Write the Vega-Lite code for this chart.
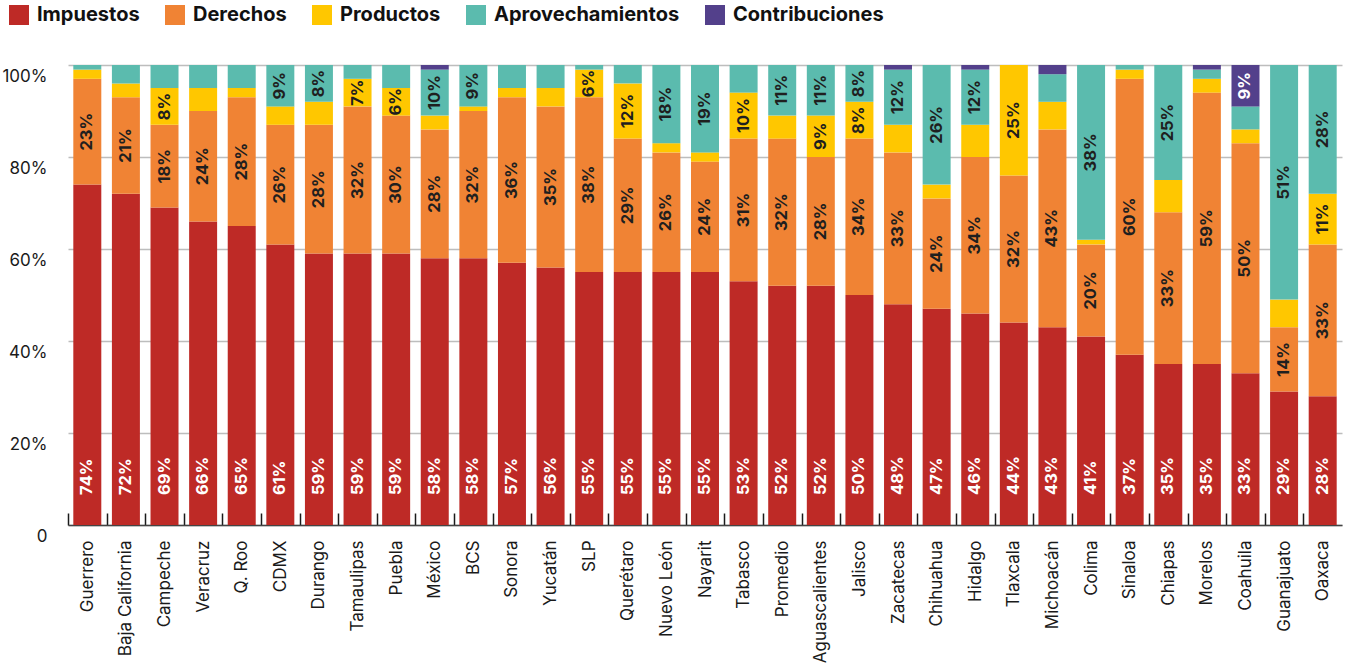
{
  "$schema": "https://vega.github.io/schema/vega-lite/v6.json",
  "width": 1274,
  "height": 460,
  "autosize": {"type": "none"},
  "padding": {"left": 68, "top": 65, "right": 5, "bottom": 146},
  "background": "white",
  "config": {
    "font": "Inter",
    "view": {"stroke": null}
  },
  "data": {
    "values": [
      {"estado": "Guerrero", "tipo": "Impuestos", "valor": 74, "etiqueta": "74%"},
      {"estado": "Guerrero", "tipo": "Derechos", "valor": 23, "etiqueta": "23%"},
      {"estado": "Guerrero", "tipo": "Productos", "valor": 2, "etiqueta": ""},
      {"estado": "Guerrero", "tipo": "Aprovechamientos", "valor": 1, "etiqueta": ""},
      {"estado": "Baja California", "tipo": "Impuestos", "valor": 72, "etiqueta": "72%"},
      {"estado": "Baja California", "tipo": "Derechos", "valor": 21, "etiqueta": "21%"},
      {"estado": "Baja California", "tipo": "Productos", "valor": 3, "etiqueta": ""},
      {"estado": "Baja California", "tipo": "Aprovechamientos", "valor": 4, "etiqueta": ""},
      {"estado": "Campeche", "tipo": "Impuestos", "valor": 69, "etiqueta": "69%"},
      {"estado": "Campeche", "tipo": "Derechos", "valor": 18, "etiqueta": "18%"},
      {"estado": "Campeche", "tipo": "Productos", "valor": 8, "etiqueta": "8%"},
      {"estado": "Campeche", "tipo": "Aprovechamientos", "valor": 5, "etiqueta": ""},
      {"estado": "Veracruz", "tipo": "Impuestos", "valor": 66, "etiqueta": "66%"},
      {"estado": "Veracruz", "tipo": "Derechos", "valor": 24, "etiqueta": "24%"},
      {"estado": "Veracruz", "tipo": "Productos", "valor": 5, "etiqueta": ""},
      {"estado": "Veracruz", "tipo": "Aprovechamientos", "valor": 5, "etiqueta": ""},
      {"estado": "Q. Roo", "tipo": "Impuestos", "valor": 65, "etiqueta": "65%"},
      {"estado": "Q. Roo", "tipo": "Derechos", "valor": 28, "etiqueta": "28%"},
      {"estado": "Q. Roo", "tipo": "Productos", "valor": 2, "etiqueta": ""},
      {"estado": "Q. Roo", "tipo": "Aprovechamientos", "valor": 5, "etiqueta": ""},
      {"estado": "CDMX", "tipo": "Impuestos", "valor": 61, "etiqueta": "61%"},
      {"estado": "CDMX", "tipo": "Derechos", "valor": 26, "etiqueta": "26%"},
      {"estado": "CDMX", "tipo": "Productos", "valor": 4, "etiqueta": ""},
      {"estado": "CDMX", "tipo": "Aprovechamientos", "valor": 9, "etiqueta": "9%"},
      {"estado": "Durango", "tipo": "Impuestos", "valor": 59, "etiqueta": "59%"},
      {"estado": "Durango", "tipo": "Derechos", "valor": 28, "etiqueta": "28%"},
      {"estado": "Durango", "tipo": "Productos", "valor": 5, "etiqueta": ""},
      {"estado": "Durango", "tipo": "Aprovechamientos", "valor": 8, "etiqueta": "8%"},
      {"estado": "Tamaulipas", "tipo": "Impuestos", "valor": 59, "etiqueta": "59%"},
      {"estado": "Tamaulipas", "tipo": "Derechos", "valor": 32, "etiqueta": "32%"},
      {"estado": "Tamaulipas", "tipo": "Productos", "valor": 6, "etiqueta": "7%"},
      {"estado": "Tamaulipas", "tipo": "Aprovechamientos", "valor": 3, "etiqueta": ""},
      {"estado": "Puebla", "tipo": "Impuestos", "valor": 59, "etiqueta": "59%"},
      {"estado": "Puebla", "tipo": "Derechos", "valor": 30, "etiqueta": "30%"},
      {"estado": "Puebla", "tipo": "Productos", "valor": 6, "etiqueta": "6%"},
      {"estado": "Puebla", "tipo": "Aprovechamientos", "valor": 5, "etiqueta": ""},
      {"estado": "México", "tipo": "Impuestos", "valor": 58, "etiqueta": "58%"},
      {"estado": "México", "tipo": "Derechos", "valor": 28, "etiqueta": "28%"},
      {"estado": "México", "tipo": "Productos", "valor": 3, "etiqueta": ""},
      {"estado": "México", "tipo": "Aprovechamientos", "valor": 10, "etiqueta": "10%"},
      {"estado": "México", "tipo": "Contribuciones", "valor": 1, "etiqueta": ""},
      {"estado": "BCS", "tipo": "Impuestos", "valor": 58, "etiqueta": "58%"},
      {"estado": "BCS", "tipo": "Derechos", "valor": 32, "etiqueta": "32%"},
      {"estado": "BCS", "tipo": "Productos", "valor": 1, "etiqueta": ""},
      {"estado": "BCS", "tipo": "Aprovechamientos", "valor": 9, "etiqueta": "9%"},
      {"estado": "Sonora", "tipo": "Impuestos", "valor": 57, "etiqueta": "57%"},
      {"estado": "Sonora", "tipo": "Derechos", "valor": 36, "etiqueta": "36%"},
      {"estado": "Sonora", "tipo": "Productos", "valor": 2, "etiqueta": ""},
      {"estado": "Sonora", "tipo": "Aprovechamientos", "valor": 5, "etiqueta": ""},
      {"estado": "Yucatán", "tipo": "Impuestos", "valor": 56, "etiqueta": "56%"},
      {"estado": "Yucatán", "tipo": "Derechos", "valor": 35, "etiqueta": "35%"},
      {"estado": "Yucatán", "tipo": "Productos", "valor": 4, "etiqueta": ""},
      {"estado": "Yucatán", "tipo": "Aprovechamientos", "valor": 5, "etiqueta": ""},
      {"estado": "SLP", "tipo": "Impuestos", "valor": 55, "etiqueta": "55%"},
      {"estado": "SLP", "tipo": "Derechos", "valor": 38, "etiqueta": "38%"},
      {"estado": "SLP", "tipo": "Productos", "valor": 6, "etiqueta": "6%"},
      {"estado": "SLP", "tipo": "Aprovechamientos", "valor": 1, "etiqueta": ""},
      {"estado": "Querétaro", "tipo": "Impuestos", "valor": 55, "etiqueta": "55%"},
      {"estado": "Querétaro", "tipo": "Derechos", "valor": 29, "etiqueta": "29%"},
      {"estado": "Querétaro", "tipo": "Productos", "valor": 12, "etiqueta": "12%"},
      {"estado": "Querétaro", "tipo": "Aprovechamientos", "valor": 4, "etiqueta": ""},
      {"estado": "Nuevo León", "tipo": "Impuestos", "valor": 55, "etiqueta": "55%"},
      {"estado": "Nuevo León", "tipo": "Derechos", "valor": 26, "etiqueta": "26%"},
      {"estado": "Nuevo León", "tipo": "Productos", "valor": 2, "etiqueta": ""},
      {"estado": "Nuevo León", "tipo": "Aprovechamientos", "valor": 17, "etiqueta": "18%"},
      {"estado": "Nayarit", "tipo": "Impuestos", "valor": 55, "etiqueta": "55%"},
      {"estado": "Nayarit", "tipo": "Derechos", "valor": 24, "etiqueta": "24%"},
      {"estado": "Nayarit", "tipo": "Productos", "valor": 2, "etiqueta": ""},
      {"estado": "Nayarit", "tipo": "Aprovechamientos", "valor": 19, "etiqueta": "19%"},
      {"estado": "Tabasco", "tipo": "Impuestos", "valor": 53, "etiqueta": "53%"},
      {"estado": "Tabasco", "tipo": "Derechos", "valor": 31, "etiqueta": "31%"},
      {"estado": "Tabasco", "tipo": "Productos", "valor": 10, "etiqueta": "10%"},
      {"estado": "Tabasco", "tipo": "Aprovechamientos", "valor": 6, "etiqueta": ""},
      {"estado": "Promedio", "tipo": "Impuestos", "valor": 52, "etiqueta": "52%"},
      {"estado": "Promedio", "tipo": "Derechos", "valor": 32, "etiqueta": "32%"},
      {"estado": "Promedio", "tipo": "Productos", "valor": 5, "etiqueta": ""},
      {"estado": "Promedio", "tipo": "Aprovechamientos", "valor": 11, "etiqueta": "11%"},
      {"estado": "Aguascalientes", "tipo": "Impuestos", "valor": 52, "etiqueta": "52%"},
      {"estado": "Aguascalientes", "tipo": "Derechos", "valor": 28, "etiqueta": "28%"},
      {"estado": "Aguascalientes", "tipo": "Productos", "valor": 9, "etiqueta": "9%"},
      {"estado": "Aguascalientes", "tipo": "Aprovechamientos", "valor": 11, "etiqueta": "11%"},
      {"estado": "Jalisco", "tipo": "Impuestos", "valor": 50, "etiqueta": "50%"},
      {"estado": "Jalisco", "tipo": "Derechos", "valor": 34, "etiqueta": "34%"},
      {"estado": "Jalisco", "tipo": "Productos", "valor": 8, "etiqueta": "8%"},
      {"estado": "Jalisco", "tipo": "Aprovechamientos", "valor": 8, "etiqueta": "8%"},
      {"estado": "Zacatecas", "tipo": "Impuestos", "valor": 48, "etiqueta": "48%"},
      {"estado": "Zacatecas", "tipo": "Derechos", "valor": 33, "etiqueta": "33%"},
      {"estado": "Zacatecas", "tipo": "Productos", "valor": 6, "etiqueta": ""},
      {"estado": "Zacatecas", "tipo": "Aprovechamientos", "valor": 12, "etiqueta": "12%"},
      {"estado": "Zacatecas", "tipo": "Contribuciones", "valor": 1, "etiqueta": ""},
      {"estado": "Chihuahua", "tipo": "Impuestos", "valor": 47, "etiqueta": "47%"},
      {"estado": "Chihuahua", "tipo": "Derechos", "valor": 24, "etiqueta": "24%"},
      {"estado": "Chihuahua", "tipo": "Productos", "valor": 3, "etiqueta": ""},
      {"estado": "Chihuahua", "tipo": "Aprovechamientos", "valor": 26, "etiqueta": "26%"},
      {"estado": "Hidalgo", "tipo": "Impuestos", "valor": 46, "etiqueta": "46%"},
      {"estado": "Hidalgo", "tipo": "Derechos", "valor": 34, "etiqueta": "34%"},
      {"estado": "Hidalgo", "tipo": "Productos", "valor": 7, "etiqueta": ""},
      {"estado": "Hidalgo", "tipo": "Aprovechamientos", "valor": 12, "etiqueta": "12%"},
      {"estado": "Hidalgo", "tipo": "Contribuciones", "valor": 1, "etiqueta": ""},
      {"estado": "Tlaxcala", "tipo": "Impuestos", "valor": 44, "etiqueta": "44%"},
      {"estado": "Tlaxcala", "tipo": "Derechos", "valor": 32, "etiqueta": "32%"},
      {"estado": "Tlaxcala", "tipo": "Productos", "valor": 24, "etiqueta": "25%"},
      {"estado": "Michoacán", "tipo": "Impuestos", "valor": 43, "etiqueta": "43%"},
      {"estado": "Michoacán", "tipo": "Derechos", "valor": 43, "etiqueta": "43%"},
      {"estado": "Michoacán", "tipo": "Productos", "valor": 6, "etiqueta": ""},
      {"estado": "Michoacán", "tipo": "Aprovechamientos", "valor": 6, "etiqueta": ""},
      {"estado": "Michoacán", "tipo": "Contribuciones", "valor": 2, "etiqueta": ""},
      {"estado": "Colima", "tipo": "Impuestos", "valor": 41, "etiqueta": "41%"},
      {"estado": "Colima", "tipo": "Derechos", "valor": 20, "etiqueta": "20%"},
      {"estado": "Colima", "tipo": "Productos", "valor": 1, "etiqueta": ""},
      {"estado": "Colima", "tipo": "Aprovechamientos", "valor": 38, "etiqueta": "38%"},
      {"estado": "Sinaloa", "tipo": "Impuestos", "valor": 37, "etiqueta": "37%"},
      {"estado": "Sinaloa", "tipo": "Derechos", "valor": 60, "etiqueta": "60%"},
      {"estado": "Sinaloa", "tipo": "Productos", "valor": 2, "etiqueta": ""},
      {"estado": "Sinaloa", "tipo": "Aprovechamientos", "valor": 1, "etiqueta": ""},
      {"estado": "Chiapas", "tipo": "Impuestos", "valor": 35, "etiqueta": "35%"},
      {"estado": "Chiapas", "tipo": "Derechos", "valor": 33, "etiqueta": "33%"},
      {"estado": "Chiapas", "tipo": "Productos", "valor": 7, "etiqueta": ""},
      {"estado": "Chiapas", "tipo": "Aprovechamientos", "valor": 25, "etiqueta": "25%"},
      {"estado": "Morelos", "tipo": "Impuestos", "valor": 35, "etiqueta": "35%"},
      {"estado": "Morelos", "tipo": "Derechos", "valor": 59, "etiqueta": "59%"},
      {"estado": "Morelos", "tipo": "Productos", "valor": 3, "etiqueta": ""},
      {"estado": "Morelos", "tipo": "Aprovechamientos", "valor": 2, "etiqueta": ""},
      {"estado": "Morelos", "tipo": "Contribuciones", "valor": 1, "etiqueta": ""},
      {"estado": "Coahuila", "tipo": "Impuestos", "valor": 33, "etiqueta": "33%"},
      {"estado": "Coahuila", "tipo": "Derechos", "valor": 50, "etiqueta": "50%"},
      {"estado": "Coahuila", "tipo": "Productos", "valor": 3, "etiqueta": ""},
      {"estado": "Coahuila", "tipo": "Aprovechamientos", "valor": 5, "etiqueta": ""},
      {"estado": "Coahuila", "tipo": "Contribuciones", "valor": 9, "etiqueta": "9%"},
      {"estado": "Guanajuato", "tipo": "Impuestos", "valor": 29, "etiqueta": "29%"},
      {"estado": "Guanajuato", "tipo": "Derechos", "valor": 14, "etiqueta": "14%"},
      {"estado": "Guanajuato", "tipo": "Productos", "valor": 6, "etiqueta": ""},
      {"estado": "Guanajuato", "tipo": "Aprovechamientos", "valor": 51, "etiqueta": "51%"},
      {"estado": "Oaxaca", "tipo": "Impuestos", "valor": 28, "etiqueta": "28%"},
      {"estado": "Oaxaca", "tipo": "Derechos", "valor": 33, "etiqueta": "33%"},
      {"estado": "Oaxaca", "tipo": "Productos", "valor": 11, "etiqueta": "11%"},
      {"estado": "Oaxaca", "tipo": "Aprovechamientos", "valor": 28, "etiqueta": "28%"}
    ]
  },
  "transform": [
    {"stack": "valor", "groupby": ["estado"], "offset": "normalize", "as": ["v0", "v1"]}
  ],
  "encoding": {
    "x": {
      "field": "estado",
      "type": "nominal",
      "sort": null,
      "scale": {"paddingInner": 0.275, "paddingOuter": 0.1375},
      "axis": {
        "title": null,
        "labelAngle": -90,
        "labelFontSize": 17,
        "labelColor": "#1a1a1a",
        "labelPadding": 27,
        "bandPosition": 0,
        "tickSize": -12,
        "tickColor": "#1a1a1a",
        "tickWidth": 1.5,
        "tickOffset": -5.3,
        "labelOffset": 5.3,
        "domainColor": "#444444",
        "domainWidth": 1.5,
        "grid": false
      }
    }
  },
  "layer": [
    {
      "mark": {"type": "bar"},
      "encoding": {
        "y": {
          "field": "v0",
          "type": "quantitative",
          "scale": {"domain": [0, 1], "nice": false},
          "axis": {
            "title": null,
            "values": [0, 0.2, 0.4, 0.6, 0.8, 1],
            "labelExpr": "datum.value === 0 ? '0' : format(datum.value, '.0%')",
            "labelFontSize": 17,
            "labelColor": "#1a1a1a",
            "labelPadding": 21,
            "labelBaseline": "top",
            "labelOffset": 3,
            "ticks": false,
            "domain": false,
            "grid": true,
            "gridColor": "#bdbdbd",
            "gridWidth": 1.5
          }
        },
        "y2": {"field": "v1"},
        "color": {
          "field": "tipo",
          "type": "nominal",
          "scale": {
            "domain": ["Impuestos", "Derechos", "Productos", "Aprovechamientos", "Contribuciones"],
            "range": ["#BE2A26", "#F08334", "#FFC700", "#5BBBAE", "#53408B"]
          },
          "legend": {
            "title": null,
            "orient": "none",
            "direction": "horizontal",
            "legendX": -59,
            "legendY": -60,
            "symbolType": "square",
            "symbolSize": 400,
            "symbolStrokeWidth": 0,
            "symbolOpacity": 1,
            "labelFontSize": 20,
            "labelFontWeight": "bold",
            "labelColor": "#111111",
            "labelOffset": 8,
            "labelLimit": 0,
            "columnPadding": 25
          }
        }
      }
    },
    {
      "transform": [{"filter": "datum.tipo === 'Impuestos'"}],
      "mark": {"type": "text", "angle": 270, "align": "left", "baseline": "middle", "dx": 30, "fontSize": 16.5, "fontWeight": "bold", "color": "white"},
      "encoding": {
        "y": {"field": "v0", "type": "quantitative"},
        "text": {"field": "etiqueta"}
      }
    },
    {
      "transform": [
        {"filter": "datum.tipo !== 'Impuestos' && datum.etiqueta !== ''"},
        {"fold": ["v0", "v1"], "as": ["extremo", "pos"]}
      ],
      "mark": {"type": "text", "angle": 270, "align": "center", "baseline": "middle", "fontSize": 16.5, "fontWeight": "bold"},
      "encoding": {
        "y": {"field": "pos", "type": "quantitative", "aggregate": "mean"},
        "detail": {"field": "tipo"},
        "text": {"field": "etiqueta"},
        "color": {
          "condition": {"test": "datum.tipo === 'Contribuciones'", "value": "white"},
          "value": "#1f1f1f"
        }
      }
    }
  ]
}
